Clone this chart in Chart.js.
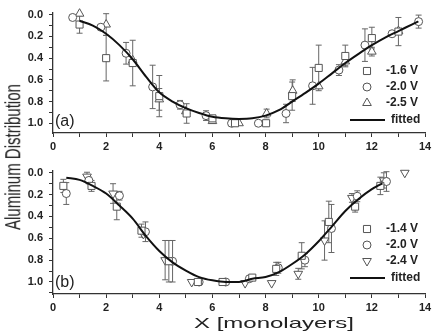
<!DOCTYPE html>
<html>
<head>
<meta charset="utf-8">
<script src="https://cdn.jsdelivr.net/npm/chart.js@4.4.1/dist/chart.umd.min.js"></script>
<style>
  body { margin: 0; background: #fff; }
  #wrap { position: relative; width: 441px; height: 334px; overflow: hidden; font-family: Arial, "Liberation Sans", sans-serif; }
  canvas { position: absolute; left: 0; }
  #chartA { top: 0; }
  #chartB { top: 158px; }
  #yTitle { position: absolute; left: 12px; top: 157px; font-size: 15px; color: #222; white-space: nowrap;
            transform: translate(-50%, -50%) scaleX(1.5) rotate(-90deg); }
  #xTitle { position: absolute; left: 274px; top: 322px; font-size: 15px; color: #222; white-space: nowrap;
            transform: translate(-50%, -50%) scaleX(1.6); }
</style>
</head>
<body>
<div id="wrap">
  <canvas id="chartA" width="441" height="153"></canvas>
  <canvas id="chartB" width="441" height="156"></canvas>
  <div id="yTitle">Aluminum Distribution</div>
  <div id="xTitle">X [monolayers]</div>
</div>
<script>
// ---- panel (a) ----
const aSqX = [1.0, 2.0, 3.0, 4.0, 5.03, 6.0, 6.85, 8.02, 9.0, 10.0, 11.0, 12.0, 13.0];
const aSqY = [0.09, 0.40, 0.445, 0.75, 0.91, 0.955, 1.0, 1.0, 0.75, 0.49, 0.38, 0.215, 0.155];
const aSqE = [0.08, 0.21, 0.21, 0.19, 0.09, 0.02, 0, 0, 0.13, 0.21, 0.1, 0.1, 0.13];

const aCiX = [0.74, 1.8, 2.75, 3.75, 4.78, 5.76, 6.72, 7.73, 8.77, 9.77, 10.76, 11.74, 12.76, 13.76];
const aCiY = [0.025, 0.115, 0.355, 0.665, 0.83, 0.93, 1.0, 1.0, 0.91, 0.655, 0.51, 0.28, 0.175, 0.063];
const aCiE = [0, 0.02, 0.1, 0.2, 0.04, 0.045, 0, 0, 0.085, 0.17, 0.05, 0.15, 0, 0.06];

const aTrX = [1.0, 2.0, 3.0, 4.0, 5.0, 6.0, 7.0, 8.04, 9.02, 10.0, 11.0, 12.0, 13.0];
const aTrY = [-0.01, 0.09, 0.42, 0.78, 0.89, 0.98, 1.0, 0.91, 0.70, 0.66, 0.43, 0.34, 0.15];
const aTrE = [0, 0.1, 0, 0.1, 0, 0, 0, 0.04, 0.1, 0, 0.04, 0.04, 0];

const aFitX = [1, 1.5, 2, 2.5, 3, 3.5, 4, 4.5, 5, 5.5, 6, 6.5, 7, 7.5, 8, 8.5, 9, 9.5, 10, 10.5, 11, 11.5, 12, 12.5, 13, 13.5, 13.75];
const aFitY = [0.055, 0.1, 0.175, 0.28, 0.41, 0.57, 0.715, 0.8, 0.86, 0.905, 0.94, 0.955, 0.96, 0.955, 0.93, 0.88, 0.8, 0.72, 0.635, 0.54, 0.445, 0.36, 0.28, 0.21, 0.15, 0.09, 0.06];

// ---- panel (b) ----
const bSqX = [0.39, 1.45, 2.4, 3.33, 4.36, 5.45, 6.38, 7.5, 8.4, 9.36, 10.38, 11.37, 12.32];
const bSqY = [0.12, 0.12, 0.31, 0.53, 0.81, 1.0, 1.0, 0.96, 0.88, 0.76, 0.45, 0.31, 0.12];
const bSqE = [0.06, 0.05, 0.12, 0.06, 0.19, 0, 0, 0, 0.06, 0.12, 0.19, 0.05, 0.08];

const bCiX = [0.5, 1.35, 2.5, 3.48, 4.5, 5.5, 6.5, 7.39, 8.48, 9.48, 10.48, 11.45, 12.55];
const bCiY = [0.19, 0.07, 0.21, 0.54, 0.81, 1.0, 1.0, 0.97, 0.87, 0.80, 0.51, 0.215, 0.08];
const bCiE = [0.1, 0.03, 0.04, 0.09, 0.19, 0, 0, 0, 0.05, 0.06, 0.22, 0.05, 0.09];

const bTrX = [1.28, 2.26, 3.4, 4.22, 5.22, 7.23, 8.23, 9.23, 10.22, 11.25, 12.45, 13.24];
const bTrY = [0.035, 0.19, 0.56, 0.80, 1.0, 1.01, 1.01, 0.925, 0.62, 0.23, 0.07, 0.0];
const bTrE = [0.04, 0.09, 0, 0.18, 0, 0, 0, 0.05, 0.18, 0.04, 0.07, 0];

const bFitX = [0.5, 1, 1.5, 2, 2.5, 3, 3.5, 4, 4.5, 5, 5.5, 6, 6.5, 7, 7.5, 8, 8.5, 9, 9.5, 10, 10.5, 11, 11.5, 12, 12.4];
const bFitY = [0.045, 0.065, 0.12, 0.19, 0.30, 0.42, 0.58, 0.716, 0.82, 0.895, 0.955, 0.985, 1.0, 1.0, 0.97, 0.955, 0.91, 0.835, 0.745, 0.627, 0.49, 0.35, 0.24, 0.15, 0.096];

const xTicks = [0, 2, 4, 6, 8, 10, 12, 14];
const yTicks = ["0.0", "0.2", "0.4", "0.6", "0.8", "1.0"];

const pts = (xs, ys) => xs.map((x, i) => ({ x: x, y: ys[i] }));

function markerSet(label, xs, ys, errs, style, radius, rotation) {
  return {
    label: label,
    data: pts(xs, ys),
    err: errs,
    legend: true,
    showLine: false,
    pointStyle: style,
    pointRadius: radius,
    pointRotation: rotation || 0,
    borderColor: "#555",
    backgroundColor: "#fff",
    pointBorderWidth: 1,
    clip: false,
    order: 1
  };
}

function fitSet(xs, ys) {
  return {
    label: "fitted",
    data: pts(xs, ys),
    showLine: true,
    pointRadius: 0,
    borderColor: "#111",
    borderWidth: 2,
    tension: 0.4,
    cubicInterpolationMode: "monotone",
    fill: false,
    clip: false,
    order: 0
  };
}

// error bars drawn under the markers
const errorBars = {
  id: "errorBars",
  beforeDatasetsDraw(chart) {
    const ctx = chart.ctx;
    const xs = chart.scales.x, ys = chart.scales.y;
    ctx.save();
    ctx.strokeStyle = "#666";
    ctx.lineWidth = 1;
    chart.data.datasets.forEach(ds => {
      if (!ds.err) return;
      ds.data.forEach((p, i) => {
        const e = ds.err[i];
        if (!e) return;
        const x = xs.getPixelForValue(p.x);
        const top = ys.getPixelForValue(p.y - e);
        const bot = ys.getPixelForValue(p.y + e);
        ctx.beginPath();
        ctx.moveTo(x, top); ctx.lineTo(x, bot);
        ctx.moveTo(x - 3, top); ctx.lineTo(x + 3, top);
        ctx.moveTo(x - 3, bot); ctx.lineTo(x + 3, bot);
        ctx.stroke();
      });
    });
    ctx.restore();
  }
};

// in-plot legend and panel tag
const panelDecor = {
  id: "panelDecor",
  afterDraw(chart, args, opts) {
    const ctx = chart.ctx;
    const area = chart.chartArea;
    ctx.save();
    ctx.textBaseline = "middle";
    ctx.fillStyle = "#222";
    ctx.font = "16px Arial";
    ctx.fillText(opts.tag, area.left + 2, area.bottom - 11);

    ctx.font = "bold 12px Arial";
    const rows = chart.data.datasets.filter(d => d.legend);
    rows.forEach((ds, i) => {
      const y = 71 + i * 16;
      ctx.strokeStyle = "#555";
      ctx.fillStyle = "#fff";
      ctx.lineWidth = 1;
      Chart.helpers.drawPoint(ctx, {
        pointStyle: ds.pointStyle, rotation: ds.pointRotation,
        radius: ds.pointRadius, borderWidth: 1
      }, 367, y);
      ctx.fillStyle = "#222";
      ctx.fillText(ds.label, 386, y);
    });
    ctx.strokeStyle = "#111";
    ctx.lineWidth = 2;
    ctx.beginPath();
    ctx.moveTo(350, 120);
    ctx.lineTo(385, 120);
    ctx.stroke();
    ctx.fillText("fitted", 391, 120);
    ctx.restore();
  }
};

const tickFont = { family: "Arial", size: 11, weight: "bold" };

function drawPanel(id, datasets, yMax, tag) {
  return new Chart(document.getElementById(id), {
    type: "scatter",
    data: { datasets: datasets },
    options: {
      responsive: false,
      animation: false,
      layout: { padding: { top: 10, right: 16, left: 0, bottom: 0 } },
      plugins: {
        legend: { display: false },
        tooltip: { enabled: false },
        panelDecor: { tag: tag }
      },
      scales: {
        x: {
          type: "linear", min: 0, max: 14,
          afterFit: s => { s.height = 20; },
          border: { color: "#333", width: 1.3 },
          grid: { drawOnChartArea: false, color: "#333", tickLength: 4 },
          ticks: {
            stepSize: 1, autoSkip: false, maxRotation: 0, padding: 3,
            color: "#222", font: tickFont,
            callback: v => xTicks.includes(v) ? String(v) : ""
          }
        },
        y: {
          type: "linear", reverse: true, min: -0.02, max: yMax,
          afterFit: s => { s.width = 53; },
          border: { color: "#333", width: 1.3 },
          grid: { drawOnChartArea: false, color: "#333", tickLength: 4 },
          ticks: {
            stepSize: 0.1, includeBounds: false, autoSkip: false, padding: 6,
            color: "#222", font: tickFont,
            callback: v => {
              const s = v.toFixed(1);
              return yTicks.includes(s) ? s : "";
            }
          }
        }
      }
    },
    plugins: [errorBars, panelDecor]
  });
}

drawPanel("chartA", [
  fitSet(aFitX, aFitY),
  markerSet("-1.6 V", aSqX, aSqY, aSqE, "rect", 5),
  markerSet("-2.0 V", aCiX, aCiY, aCiE, "circle", 4),
  markerSet("-2.5 V", aTrX, aTrY, aTrE, "triangle", 5)
], 1.09, "(a)");

drawPanel("chartB", [
  fitSet(bFitX, bFitY),
  markerSet("-1.4 V", bSqX, bSqY, bSqE, "rect", 5),
  markerSet("-2.0 V", bCiX, bCiY, bCiE, "circle", 4),
  markerSet("-2.4 V", bTrX, bTrY, bTrE, "triangle", 5, 180)
], 1.11, "(b)");
</script>
</body>
</html>
